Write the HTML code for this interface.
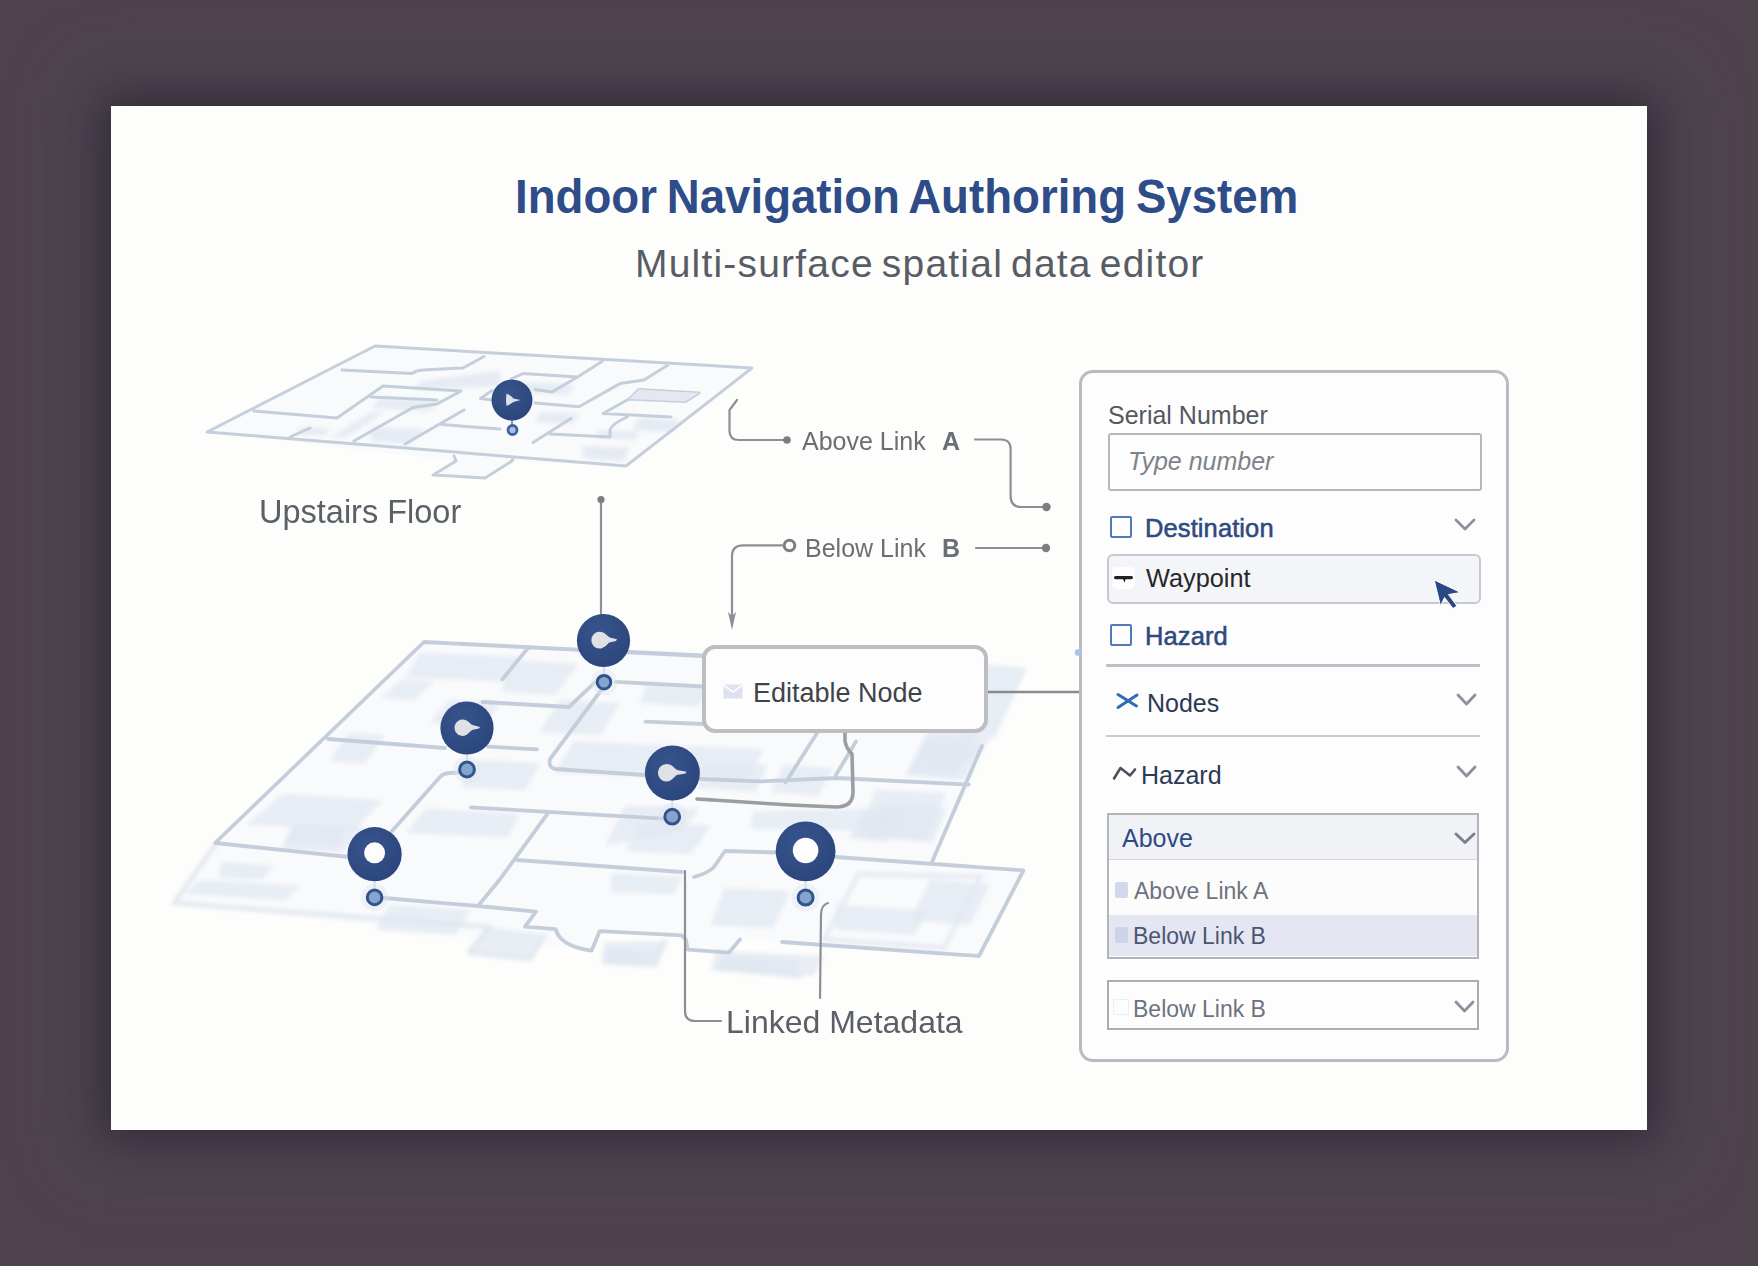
<!DOCTYPE html>
<html><head><meta charset="utf-8">
<style>
*{margin:0;padding:0;box-sizing:border-box}
html,body{width:1758px;height:1266px;overflow:hidden;background:#4f444e;font-family:"Liberation Sans",sans-serif}
#card{position:absolute;left:111px;top:106px;width:1536px;height:1024px;background:#fdfdfc;box-shadow:0 0 40px 6px rgba(28,22,30,0.55),0 0 60px 30px rgba(70,66,84,0.55)}
.t{position:absolute;white-space:nowrap;line-height:1}
#title{left:514.5px;top:172px;font-size:49px;font-weight:bold;color:#2e4c87;word-spacing:-3px;transform:scaleX(0.931);transform-origin:0 0}
#sub{left:635px;top:244px;font-size:39px;color:#585d65;letter-spacing:1.2px;word-spacing:-4px}
svg{position:absolute;left:0;top:0}
.bx{position:absolute}
</style></head><body>
<div id="card"></div>
<div class="t" id="title">Indoor Navigation Authoring System</div>
<div class="t" id="sub">Multi-surface spatial data editor</div>

<svg id="floors" width="1758" height="1266" viewBox="0 0 1758 1266">
<defs><radialGradient id="pg" cx="0.4" cy="0.35" r="0.7"><stop offset="0" stop-color="#36548c"/><stop offset="1" stop-color="#2c467c"/></radialGradient><filter id="bl" x="-20%" y="-20%" width="140%" height="140%"><feGaussianBlur stdDeviation="2.2"/></filter></defs>
<path d="M375.0,346.0 L752.0,368.0 L626.0,466.0 L512.0,461.0 L485.0,478.0 L433.0,475.0 L456.0,461.0 L207.0,432.0 Z" fill="#f9fafc"/>
<path d="M424.0,642.0 L1027.0,668.0 L932.0,862.0 L1023.5,870.4 L979.0,956.0 L742.0,939.0 L728.0,952.0 L690.0,947.0 L682.0,935.0 L600.0,931.0 L586.0,950.0 L174.0,903.0 L215.0,843.0 Z" fill="#f9fafc"/>
<g filter="url(#bl)">
<path d="M329.7,437.4 L370.6,412.6 L384.3,412.6 L345.0,437.4 Z" fill="#dfe6f0" opacity="0.75"/>
<path d="M370.6,427.1 L425.4,429.7 L408.2,444.2 L370.6,440.8 Z" fill="#dfe6f0" opacity="0.75"/>
<path d="M421.8,381.0 L500.0,370.8 L500.0,386.2 L413.3,389.6 Z" fill="#dfe6f0" opacity="0.75"/>
<path d="M582.6,446.0 L630.4,447.6 L623.6,461.3 L582.6,457.9 Z" fill="#dfe6f0" opacity="0.75"/>
<path d="M520.0,382.0 L575.0,385.0 L568.0,395.0 L515.0,392.0 Z" fill="#dfe6f0" opacity="0.75"/>
<path d="M540.0,412.0 L580.0,414.0 L572.0,424.0 L535.0,422.0 Z" fill="#dfe6f0" opacity="0.75"/>
<path d="M600.0,430.0 L640.0,432.0 L635.0,440.0 L596.0,438.0 Z" fill="#dfe6f0" opacity="0.75"/>
<path d="M380.0,398.0 L440.0,401.0 L430.0,411.0 L372.0,408.0 Z" fill="#dfe6f0" opacity="0.75"/>
<path d="M300.0,427.0 L330.0,429.0 L325.0,436.0 L296.0,434.0 Z" fill="#dfe6f0" opacity="0.75"/>
<path d="M640.0,418.0 L680.0,420.0 L672.0,432.0 L632.0,430.0 Z" fill="#dfe6f0" opacity="0.75"/>
<path d="M420.0,652.8 L520.0,656.9 L508.0,681.4 L405.7,677.3 Z" fill="#e0e7f1" opacity="0.7"/>
<path d="M401.7,679.4 L434.4,681.4 L414.0,699.9 L381.2,697.8 Z" fill="#e0e7f1" opacity="0.7"/>
<path d="M348.4,732.6 L385.3,734.7 L364.8,763.4 L330.0,761.3 Z" fill="#e0e7f1" opacity="0.7"/>
<path d="M282.9,794.0 L383.2,800.2 L354.6,828.9 L246.0,824.8 Z" fill="#e0e7f1" opacity="0.7"/>
<path d="M293.0,824.8 L344.3,826.8 L340.2,845.3 L282.9,843.2 Z" fill="#e0e7f1" opacity="0.7"/>
<path d="M426.2,808.4 L520.0,814.5 L508.1,837.0 L405.7,833.0 Z" fill="#e0e7f1" opacity="0.7"/>
<path d="M625.3,805.6 L699.3,808.4 L682.2,831.2 L605.4,845.4 Z" fill="#e0e7f1" opacity="0.7"/>
<path d="M642.4,822.7 L710.6,825.5 L690.7,854.0 L625.3,851.1 Z" fill="#e0e7f1" opacity="0.7"/>
<path d="M611.1,873.9 L682.2,876.7 L673.7,893.8 L611.1,892.3 Z" fill="#e0e7f1" opacity="0.7"/>
<path d="M724.9,888.1 L790.3,890.9 L773.2,927.9 L710.6,925.0 Z" fill="#e0e7f1" opacity="0.7"/>
<path d="M835.8,905.1 L926.8,910.8 L915.4,935.0 L835.8,929.3 Z" fill="#e0e7f1" opacity="0.7"/>
<path d="M753.3,811.3 L901.2,808.4 L892.7,831.2 L750.5,828.4 Z" fill="#e0e7f1" opacity="0.7"/>
<path d="M881.3,802.8 L946.7,808.4 L932.5,842.6 L867.1,836.9 Z" fill="#e0e7f1" opacity="0.7"/>
<path d="M602.6,947.8 L659.5,950.6 L648.1,964.9 L602.6,962.0 Z" fill="#e0e7f1" opacity="0.7"/>
<path d="M716.3,950.6 L824.4,956.3 L813.0,976.2 L710.6,970.6 Z" fill="#e0e7f1" opacity="0.7"/>
<path d="M985.0,664.0 L1026.7,668.0 L995.0,738.0 L960.0,735.0 Z" fill="#e0e7f1" opacity="0.7"/>
<path d="M930.0,735.0 L990.0,738.0 L975.0,760.0 L922.0,756.0 Z" fill="#e0e7f1" opacity="0.7"/>
<path d="M876.0,790.0 L946.0,793.0 L925.0,840.0 L857.0,835.0 Z" fill="#e0e7f1" opacity="0.7"/>
<path d="M925.0,740.0 L982.0,746.0 L965.0,780.0 L905.0,776.0 Z" fill="#e0e7f1" opacity="0.7"/>
<path d="M930.0,726.0 L980.3,729.9 L957.0,776.3 L906.8,772.5 Z" fill="#e0e7f1" opacity="0.7"/>
<path d="M574.0,741.5 L763.6,749.3 L748.2,780.2 L554.7,772.5 Z" fill="#e0e7f1" opacity="0.7"/>
<path d="M701.7,764.7 L767.5,764.7 L755.9,791.8 L697.9,788.0 Z" fill="#e0e7f1" opacity="0.7"/>
<path d="M647.6,683.5 L709.5,687.4 L697.9,706.7 L639.8,702.8 Z" fill="#e0e7f1" opacity="0.7"/>
<path d="M516.0,660.3 L578.0,664.2 L554.7,695.1 L500.6,691.2 Z" fill="#e0e7f1" opacity="0.7"/>
<path d="M783.0,764.7 L833.3,768.6 L817.8,795.7 L771.4,791.8 Z" fill="#e0e7f1" opacity="0.7"/>
<path d="M864.2,811.2 L902.9,815.0 L887.4,842.1 L848.7,838.3 Z" fill="#e0e7f1" opacity="0.7"/>
<path d="M221.4,861.4 L273.8,866.0 L262.4,879.6 L219.2,877.4 Z" fill="#e0e7f1" opacity="0.7"/>
<path d="M294.2,823.9 L364.8,826.2 L342.0,852.3 L280.6,850.0 Z" fill="#e0e7f1" opacity="0.7"/>
<path d="M450.0,700.0 L500.0,703.0 L485.0,725.0 L430.0,722.0 Z" fill="#e0e7f1" opacity="0.7"/>
<path d="M480.0,760.0 L540.0,763.0 L525.0,790.0 L460.0,787.0 Z" fill="#e0e7f1" opacity="0.7"/>
<path d="M560.0,700.0 L620.0,703.0 L600.0,735.0 L540.0,732.0 Z" fill="#e0e7f1" opacity="0.7"/>
<path d="M200.0,880.0 L300.0,886.0 L285.0,900.0 L185.0,894.0 Z" fill="#e0e7f1" opacity="0.7"/>
<path d="M390.0,905.0 L470.0,910.0 L455.0,935.0 L375.0,930.0 Z" fill="#e0e7f1" opacity="0.7"/>
<path d="M489.0,927.0 L544.0,935.0 L530.0,959.0 L469.0,953.0 Z" fill="#e0e7f1" opacity="0.7"/>
<path d="M604.0,942.0 L665.0,941.0 L655.0,965.0 L604.0,962.0 Z" fill="#e0e7f1" opacity="0.7"/>
<path d="M720.0,955.0 L800.0,960.0 L795.0,976.0 L718.0,968.0 Z" fill="#e0e7f1" opacity="0.7"/>
<path d="M930.0,880.0 L990.0,884.0 L970.0,925.0 L910.0,920.0 Z" fill="#e0e7f1" opacity="0.7"/>
<path d="M215,845 L174,903 L489,927
M489,927 L468.7,952.7 L530,958.8 L544.4,935.3
M603.8,961.9 L655,965 L665,941.4
M718.5,968 L800,976" fill="none" stroke="#dfe6ef" stroke-width="4" stroke-linecap="round" stroke-linejoin="round"/>
<path d="M858.5,873.9 L980.8,876.7 L943.9,947.8 L824.4,939.3 Z" fill="none" stroke="#e3e9f1" stroke-width="4"/>
</g>
<path d="M375,346 L752,368 L626,466 L207,432 Z
M454,456 L456,461 L433,475 L485,478 L512,461 L513,458
M342,370 L412,373.5 Q417,370 423,370 L463,368 L484,356.5
M254,411 L337,418 L383,386 L461,391 L437,404 L413,407.5 L354,441
M371,397 L437,400
M290,437 L310,428
M405,444 L464,410
M442,424.6 L500,429
M511,379 L523,373.5 L577.5,377 L552,392 L535,389.6
M602,361.5 L576,378
M668,365 L644,380 L620,383.6 L579,406.7 L535,403
M639,389.6 L699,393 L685,401.6 L629,399 Z
M629,399 L603,413.5 L671,417
M627,417 Q612,424 610,430 L610,437 L550,434
M571,418.6 L533,442.5
M492,390.5 L480.5,398.5 L492,400" fill="none" stroke="#c5cfdb" stroke-width="3" stroke-linecap="round" stroke-linejoin="round"/>
<path d="M639,389.6 L699,393 L685,401.6 L629,399 Z" fill="#e4e9f1"/>
<path d="M703,656 L424,642 L215,843 L349,857
M384,898 L478,906 L536,911.7 L525,926.7 L555.7,929.2 Q560,946 591.5,950.7 L599.7,931.2 L681.7,935.3 L685.7,939.4 L687.8,949.6 L728.8,952.7 L740,939.4
M982,746 L932,862
M694,877 Q712,872 716,864 L725,851 L776,852.5
M836,857 L1023.5,870.4 L979,956 L782,942
M527.8,648.3 L502.3,679.4
M328,739 L445,748
M488,746.6 L537,749.4
M392,831 L440,777 Q444,773 450,773 L459,772.5
M482.5,702 L569,707 L594.7,682.6
M615.4,681.8 L703,686.5
M601,690.5 L550,759 Q548,768 556,769 L644,775
M700,779 L760,781.3 L837,778 L968.7,784.7
M645.6,721.6 L703,724
M471,807.4 L663,818.7
M499.4,880 L478,906
M546.9,814.7 L499.4,880
M517,860 L682,872
M817.4,732.4 L785.6,782.4
M856,741.5 L835.6,775.6
M629,652 L703,655.5" fill="none" stroke="#c4cedb" stroke-width="3.8" stroke-linecap="round" stroke-linejoin="round"/>
<path d="M737,400 L729.5,410 L729.5,431 Q729.5,440 739,440 L787,440" fill="none" stroke="#8e8f95" stroke-width="2.2" stroke-linecap="round" stroke-linejoin="round"/><circle cx="787" cy="440" r="3.8" fill="#7d7e84"/>
<path d="M975,439.5 L1001,439.5 Q1010.6,439.5 1010.6,449 L1010.6,496 Q1010.6,507 1021,507 L1046.5,507" fill="none" stroke="#8e8f95" stroke-width="2.2" stroke-linecap="round" stroke-linejoin="round"/><circle cx="1046.5" cy="507" r="4.2" fill="#7d7e84"/>
<circle cx="789.5" cy="545.5" r="5.3" fill="none" stroke="#7d7e84" stroke-width="3"/>
<path d="M783,545.3 L743,545.3 Q732,545.3 732,556 L732,622" fill="none" stroke="#8e8f95" stroke-width="2.2" stroke-linecap="round" stroke-linejoin="round"/><path d="M728,612 L732,630 L736,612 L732,616 Z" fill="#8e8f95"/>
<path d="M976,548 L1046,548" fill="none" stroke="#8e8f95" stroke-width="2.2" stroke-linecap="round" stroke-linejoin="round"/><circle cx="1046" cy="548" r="4.2" fill="#7d7e84"/>
<path d="M601,499 L601,615" fill="none" stroke="#8e8f95" stroke-width="2.2" stroke-linecap="round" stroke-linejoin="round"/><circle cx="601" cy="499.5" r="3.6" fill="#7d7e84"/>
<path d="M987,692 L1080,692" fill="none" stroke="#8a8b90" stroke-width="2.6"/>
<path d="M845,732 L845,741 Q846,748 852,754 L853,792 Q853,807 836,807 L790,805 L697,799" fill="none" stroke="#9c9da2" stroke-width="3.6" stroke-linecap="round" stroke-linejoin="round"/>
<path d="M685,871 L685,1011 Q685,1021 695,1021 L721,1021" fill="none" stroke="#8e8f95" stroke-width="2.2" stroke-linecap="round" stroke-linejoin="round"/>
<path d="M828,903 Q821,905 821,915 L820,998" fill="none" stroke="#8e8f95" stroke-width="2.2" stroke-linecap="round" stroke-linejoin="round"/>
<line x1="512" y1="418" x2="512" y2="428" stroke="#5a78aa" stroke-width="1.5"/>
<circle cx="512" cy="400" r="20.5" fill="url(#pg)"/>
<path d="M506.5,393.5 Q511,395.5 513.5,398.5 L520.5,400 L513.5,402 Q510,404.5 506.5,406 Q505.5,400 506.5,393.5 Z" fill="#dfe1e7"/>
<circle cx="512.5" cy="430" r="4.5" fill="#b0c1d9" stroke="#3f62a0" stroke-width="2.8"/>
<circle cx="604" cy="682.2" r="13.3" fill="#dfe6f1" opacity="0.4"/><line x1="604" y1="661.9000000000001" x2="604" y2="673.9000000000001" stroke="#d5dfee" stroke-width="2"/><circle cx="604" cy="682.2" r="6.800000000000001" fill="#86a5cc" stroke="#32548e" stroke-width="3"/>
<circle cx="603.5" cy="640.5" r="26.6" fill="url(#pg)"/><path d="M599.5,631.8 C605.2,631.8 606.9,636.3 609.8,637.5 L617.0,639.3 L616.0,641.0 L609.3,642.5 C606.9,644.1 604.4,648.6 599.5,648.6 A8.2,8.4 0 0 1 599.5,631.8 Z" fill="#dfe1e7"/>
<circle cx="467" cy="769.5" r="13.9" fill="#dfe6f1" opacity="0.4"/><line x1="467" y1="748.6" x2="467" y2="760.6" stroke="#d5dfee" stroke-width="2"/><circle cx="467" cy="769.5" r="7.4" fill="#86a5cc" stroke="#32548e" stroke-width="3"/>
<circle cx="467" cy="728" r="26.6" fill="url(#pg)"/><path d="M462.5,719.5 C468.1,719.5 469.7,723.9 472.5,725.1 L480.0,726.9 L479.0,728.5 L472.1,729.9 C469.7,731.5 467.3,735.9 462.5,735.9 A8.0,8.2 0 0 1 462.5,719.5 Z" fill="#dfe1e7"/>
<circle cx="672.2" cy="816.7" r="13.9" fill="#dfe6f1" opacity="0.4"/><line x1="672.2" y1="795.8000000000001" x2="672.2" y2="807.8000000000001" stroke="#d5dfee" stroke-width="2"/><circle cx="672.2" cy="816.7" r="7.4" fill="#86a5cc" stroke="#32548e" stroke-width="3"/>
<circle cx="672.4" cy="773" r="27.5" fill="url(#pg)"/><path d="M666.5,763.9 C672.5,763.9 674.2,768.6 677.2,769.9 L686.5,771.8 L685.5,773.5 L676.8,775.1 C674.2,776.8 671.7,781.5 666.5,781.5 A8.6,8.8 0 0 1 666.5,763.9 Z" fill="#dfe1e7"/>
<circle cx="374.6" cy="897.4" r="13.8" fill="#dfe6f1" opacity="0.4"/><line x1="374.6" y1="876.6" x2="374.6" y2="888.6" stroke="#d5dfee" stroke-width="2"/><circle cx="374.6" cy="897.4" r="7.300000000000001" fill="#86a5cc" stroke="#32548e" stroke-width="3"/>
<circle cx="374.6" cy="854.2" r="27.1" fill="url(#pg)"/><circle cx="374.6" cy="852.8" r="10.5" fill="#fdfdfd"/>
<circle cx="805.6" cy="897.6" r="14" fill="#dfe6f1" opacity="0.4"/><line x1="805.6" y1="876.6" x2="805.6" y2="888.6" stroke="#d5dfee" stroke-width="2"/><circle cx="805.6" cy="897.6" r="7.5" fill="#86a5cc" stroke="#32548e" stroke-width="3"/>
<circle cx="805.6" cy="851.3" r="29.9" fill="url(#pg)"/><circle cx="805.6" cy="850.5" r="12.8" fill="#fdfdfd"/>
</svg>
<div class="bx" id="node" style="left:702px;top:645px;width:286px;height:88px;border:4px solid #bdbdc2;border-radius:13px;background:#fdfdfd"></div>
<svg class="bx" style="left:723px;top:684px" width="20" height="15" viewBox="0 0 20 15"><rect x="0.5" y="0.5" width="19" height="14" fill="#dde1f1"/><path d="M1,1.5 L10,8 L19,1.5" fill="none" stroke="#fdfdfd" stroke-width="1.8"/></svg>
<div class="t" id="ednode" style="left:753px;top:679.5px;font-size:27px;color:#3f434a">Editable Node</div>
<div class="t" id="upst" style="left:259px;top:496px;font-size:32.5px;letter-spacing:0px;color:#5a6068">Upstairs Floor</div>
<div class="t" id="abl" style="left:802px;top:428.5px;font-size:25px;color:#6b6e75">Above Link</div>
<div class="t" id="ablA" style="left:942px;top:428.5px;font-size:25px;font-weight:bold;color:#6b6e75">A</div>
<div class="t" id="bll" style="left:805px;top:536px;font-size:25px;color:#6b6e75">Below Link</div>
<div class="t" id="bllB" style="left:942px;top:536px;font-size:25px;font-weight:bold;color:#6b6e75">B</div>
<div class="t" id="lmeta" style="left:726px;top:1006px;font-size:32px;color:#5a5f68">Linked Metadata</div>


<!-- panel -->
<div class="bx" id="panel" style="left:1079px;top:370px;width:430px;height:692px;border:3px solid #b9bac2;border-radius:14px;background:#fdfdfd"></div>
<div class="t" id="serial" style="left:1108px;top:403px;font-size:25px;color:#55585e">Serial Number</div>
<div class="bx" id="input" style="left:1108px;top:433px;width:374px;height:58px;border:2.5px solid #b5b7bf;border-radius:3px;background:#fdfdfd"></div>
<div class="t" id="ph" style="left:1128px;top:449px;font-size:25px;font-style:italic;color:#7d828b">Type number</div>

<div class="bx" style="left:1110px;top:516px;width:22px;height:22px;border:2px solid #5279bd;border-radius:2px"></div>
<div class="t" id="dest" style="left:1145px;top:516px;font-size:25.5px;-webkit-text-stroke:0.55px #2e4a80;letter-spacing:0.1px;color:#2e4a80">Destination</div>

<div class="bx" id="wp" style="left:1107px;top:554px;width:374px;height:50px;border:2px solid #c6c9d1;border-radius:6px;background:#f4f5f8"></div>
<div class="bx" style="left:1112px;top:567px;width:23px;height:22px;border-radius:5px;background:#fefefe"></div>
<div class="t" id="wpt" style="left:1146px;top:566px;font-size:25.3px;color:#26272b">Waypoint</div>

<div class="bx" style="left:1110px;top:624px;width:22px;height:22px;border:2px solid #5279bd;border-radius:2px"></div>
<div class="t" id="haz1" style="left:1145px;top:624px;font-size:25.5px;-webkit-text-stroke:0.55px #2e4a80;letter-spacing:0.1px;color:#2e4a80">Hazard</div>

<div class="bx" style="left:1106px;top:664px;width:374px;height:2.5px;background:#bcc0c9"></div>
<div class="t" id="nodes" style="left:1147px;top:691px;font-size:25px;color:#2b3a55">Nodes</div>
<div class="bx" style="left:1106px;top:735px;width:374px;height:2px;background:#c6c9d1"></div>
<div class="t" id="haz2" style="left:1141px;top:763px;font-size:25px;color:#2b3a55">Hazard</div>

<div class="bx" id="dd" style="left:1107px;top:813px;width:372px;height:146px;border:2.5px solid #b3b5bd;background:#fcfcfd"></div>
<div class="bx" style="left:1109px;top:815px;width:368px;height:45px;background:#f1f2f6;border-bottom:1.5px solid #d3d6dd"></div>
<div class="t" id="above" style="left:1122px;top:826px;font-size:25px;color:#2e4a85">Above</div>
<div class="bx" style="left:1109px;top:915px;width:368px;height:41px;background:#e4e7f2"></div>
<div class="bx" style="left:1115px;top:882px;width:13px;height:16px;border-radius:2px;background:#d3d9ec"></div>
<div class="t" id="ala" style="left:1134px;top:880px;font-size:23px;color:#6d737d">Above Link A</div>
<div class="bx" style="left:1115px;top:927px;width:13px;height:16px;border-radius:2px;background:#cdd4ea"></div>
<div class="t" id="blb" style="left:1133px;top:925px;font-size:23px;color:#4a5676">Below Link B</div>

<div class="bx" id="sel2" style="left:1107px;top:980px;width:372px;height:50px;border:2.5px solid #aaadb5;background:#fdfdfd"></div>
<div class="bx" style="left:1113px;top:999px;width:16px;height:16px;border:1px solid #eceef2"></div>
<div class="t" id="blb2" style="left:1133px;top:998px;font-size:23px;color:#6d737d">Below Link B</div>

<svg id="ui" width="1758" height="1266" viewBox="0 0 1758 1266">
<path d="M1456,520 L1465,529 L1474,520" fill="none" stroke="#8a919c" stroke-width="2.8" stroke-linecap="round" stroke-linejoin="round"/>
<path d="M1458,695 L1466.5,704 L1475,695" fill="none" stroke="#8a919c" stroke-width="2.8" stroke-linecap="round" stroke-linejoin="round"/>
<path d="M1458,767 L1466.5,776 L1475,767" fill="none" stroke="#8a919c" stroke-width="2.8" stroke-linecap="round" stroke-linejoin="round"/>
<path d="M1456,834 L1465,842.5 L1474,834" fill="none" stroke="#7b818b" stroke-width="3" stroke-linecap="round" stroke-linejoin="round"/>
<path d="M1456,1002 L1464.5,1011 L1473,1002" fill="none" stroke="#8a919c" stroke-width="2.8" stroke-linecap="round" stroke-linejoin="round"/>
<path d="M1118,694.5 L1128.5,701 Q1133,704 1136.5,706 M1118,707.5 L1137,695" fill="none" stroke="#2f6cb2" stroke-width="3" stroke-linecap="round"/>
<path d="M1114,778.5 L1120.5,768 L1130,775.5 L1135,769.5" fill="none" stroke="#4a515c" stroke-width="2.6" stroke-linecap="round" stroke-linejoin="round"/>
<rect x="1114" y="576" width="19" height="3.2" rx="1.6" fill="#222"/><path d="M1122.5,578 L1126,578 L1124.5,582.5 Z" fill="#222"/>
<path d="M1434.2,579.9 L1460.5,592.4 L1448.5,594.6 L1457,606 L1453,608.5 L1444.5,597.5 L1440.5,606 Z" fill="#2b4785" stroke="#fdfdfd" stroke-width="1"/>
<circle cx="1078" cy="652.5" r="3.2" fill="#a9c4e6"/>
</svg>
</body></html>
